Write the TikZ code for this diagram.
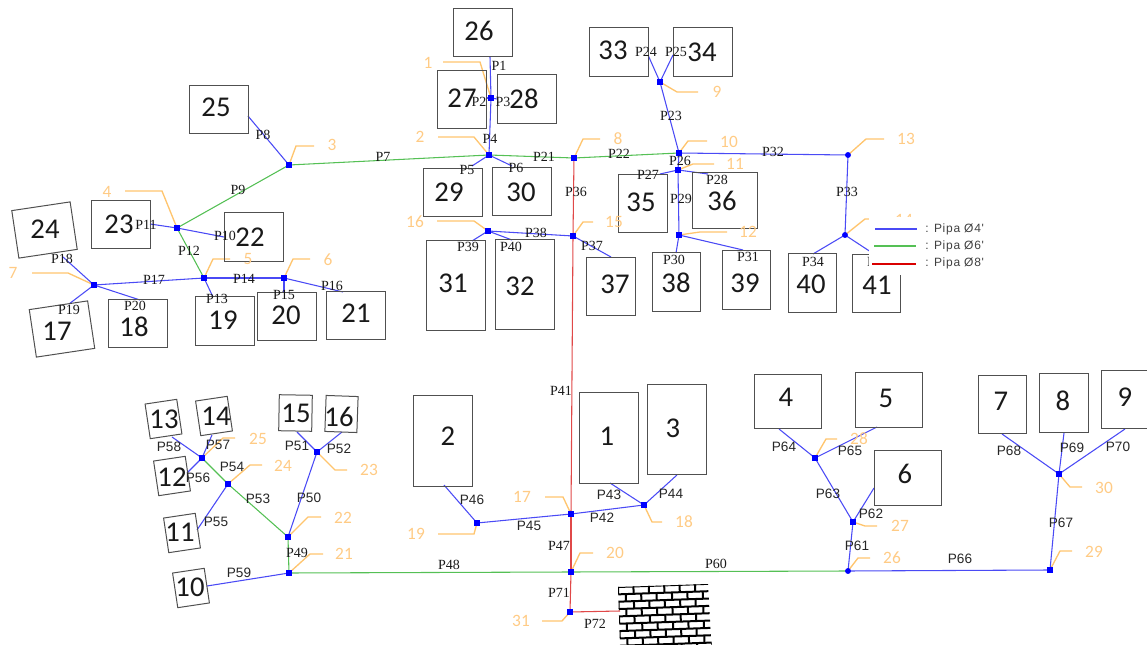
\documentclass[tikz,border=0pt]{standalone}
\usepackage{fontspec}
\setmainfont{Liberation Serif}
\setsansfont{Liberation Sans}
\newfontfamily\digfont{Carlito}
\newfontfamily\legfont[LetterSpace=6]{Liberation Sans}
\pgfdeclarelayer{pipes}
\pgfdeclarelayer{front}
\pgfsetlayers{pipes,main,front}
\definecolor{pipeblue}{HTML}{4A4AF5}
\definecolor{pipegreen}{HTML}{55C055}
\definecolor{pipered}{HTML}{E04848}
\definecolor{lead}{HTML}{FFC56E}
\definecolor{leadtext}{HTML}{FFCB85}
\definecolor{boxline}{HTML}{505050}
\tikzset{
  pblue/.style={draw=pipeblue,line width=.8pt},
  pgreen/.style={draw=pipegreen,line width=.8pt},
  pred/.style={draw=pipered,line width=.8pt},
  leader/.style={draw=lead,line width=1pt},
  junc/.style={rectangle,fill=blue,draw=blue,inner sep=0pt,minimum size=3.6pt,line width=.3pt},
  juncr/.style={circle,fill=blue,draw=blue,inner sep=0pt,minimum size=4pt,line width=.3pt},
  bldg/.style={draw=boxline,line width=.75pt,inner sep=0pt,outer sep=0pt},
  digit/.style={inner sep=0pt,font=\digfont\fontsize{21.5}{21.5}\selectfont,text=black!90},
  nlab/.style={inner sep=0pt,font=\digfont\fontsize{13}{13}\selectfont,text=leadtext},
  serlab/.style={inner sep=0pt,font=\rmfamily\fontsize{10.5}{10.5}\selectfont,text=black!90},
  sanlab/.style={inner sep=0pt,font=\sffamily\fontsize{10.2}{10.2}\selectfont,text=black!85},
  legt/.style={inner sep=0pt,anchor=west,font=\legfont\fontsize{9}{9}\selectfont,text=black!75},
}
\newcommand{\bld}[9]{%
  \node[bldg,rotate=#6,minimum width=#4*.75pt,minimum height=#5*.75pt] (b#1) at (#2,#3) {};
  \node[digit] (t#1) at (#8,#9) {#7};}
\newcommand{\jn}[3]{\node[junc] (j#1) at (#2,#3) {};}
\newcommand{\jr}[3]{\node[juncr] (j#1) at (#2,#3) {};}
% leader: junction, elbow x,y, end x,y, label x,y
\newcommand{\ldr}[7]{%
  \coordinate (ea#1) at (#2,#3); \coordinate (eb#1) at (#4,#5);
  \node[nlab] (n#1) at (#6,#7) {#1};
  \begin{pgfonlayer}{pipes}\draw[leader] (j#1.center) -- (ea#1) -- (eb#1);\end{pgfonlayer}}
% pipe between junctions
\newcommand{\pj}[3]{\begin{pgfonlayer}{pipes}\draw[#1] (j#2.center) -- (j#3.center);\end{pgfonlayer}}
% pipe from junction to a named free end
\newcommand{\pe}[5]{\coordinate (e#3) at (#4,#5);\begin{pgfonlayer}{pipes}\draw[#1] (j#2.center) -- (e#3);\end{pgfonlayer}}
\newcommand{\serl}[3]{\node[serlab] (l#1) at (#2,#3) {#1};}
\newcommand{\sanl}[3]{\node[sanlab] (l#1) at (#2,#3) {#1};}
\begin{document}
\begin{tikzpicture}[x=.75pt,y=-.75pt]
\useasboundingbox (0,0) rectangle (1147,645);
\clip (0,0) rectangle (1147,645);
% buildings: name cx cy w h rot text tx ty
\bld{25}{218.5}{110}{59}{48}{0}{25}{216}{107}
\bld{24}{44.5}{230}{59}{48}{8.5}{24}{45}{229}
\bld{23}{120.5}{225}{59}{48}{0}{23}{119}{224}
\bld{22}{253.5}{237.5}{59}{49}{0}{22}{250}{237}
\bld{17}{62}{329}{59}{48}{8.5}{17}{57}{331}
\bld{18}{137.5}{324}{59}{48}{0}{18}{134}{327}
\bld{19}{224.5}{321.5}{59}{49}{0}{19}{223}{320}
\bld{20}{286.5}{317}{59}{48}{0}{20}{286}{315}
\bld{21}{355.5}{316}{59}{48}{0}{21}{356}{313}
\bld{26}{482.5}{33}{59}{48}{0}{26}{479}{31}
\bld{27}{461.5}{100}{49}{58}{0}{27}{462}{98}
\bld{28}{526.5}{99.5}{59}{49}{0}{28}{524}{99}
\bld{29}{453}{193}{59}{48}{0}{29}{449}{192}
\bld{30}{522}{192}{59}{48}{0}{30}{521}{192}
\bld{31}{455.5}{286}{59}{90}{0}{31}{453}{283}
\bld{32}{524.5}{285}{59}{90}{0}{32}{520}{286}
\bld{37}{610.5}{287}{49}{58}{0}{37}{615}{284}
\bld{38}{676}{282.5}{48}{59}{0}{38}{676}{283}
\bld{35}{642.5}{204}{49}{58}{0}{35}{641}{202}
\bld{36}{725}{201}{65}{56}{0}{36}{722}{201}
\bld{33}{618.5}{52.5}{59}{49}{0}{33}{613}{50}
\bld{34}{702.5}{52.5}{59}{49}{0}{34}{702}{52}
\bld{39}{746}{280.5}{48}{59}{0}{39}{745}{283}
\bld{40}{812}{283.5}{48}{59}{0}{40}{811}{284}
\bld{41}{876}{284}{48}{58}{0}{41}{877}{285}
\bld{13}{163.5}{419}{32}{35}{8.5}{13}{164}{419}
\bld{14}{214}{416}{32}{35}{8.5}{14}{216}{416}
\bld{15}{295.5}{413}{33}{36}{-1}{15}{296}{413}
\bld{16}{341.5}{414}{32}{36}{-2}{16}{339}{417}
\bld{12}{172}{476}{32}{35}{8.5}{12}{172}{477}
\bld{11}{182}{533}{32}{35}{8.5}{11}{180}{532}
\bld{10}{191}{588}{32}{35}{8.5}{10}{190}{587}
\bld{2}{443}{441}{59}{90}{0}{2}{448}{436}
\bld{1}{608.5}{438}{59}{90}{0}{1}{607}{436}
\bld{3}{677}{430}{59}{90}{0}{3}{673}{428}
\bld{4}{787.5}{402}{67}{54}{0}{4}{786}{397}
\bld{5}{888.5}{400.5}{67}{55}{0}{5}{886}{398}
\bld{6}{907.5}{478}{67}{54}{0}{6}{905}{474}
\bld{7}{1002}{405}{48}{58}{0}{7}{1001}{401}
\bld{8}{1063.5}{403.5}{49}{59}{0}{8}{1063}{401}
\bld{9}{1125.5}{400}{49}{58}{0}{9}{1125}{397}
% junctions
\jn{1}{491}{98}\jn{2}{489}{155}\jn{3}{289}{165}\jn{4}{177}{228}\jn{5}{204}{278}\jn{6}{284}{278}
\jn{7}{94}{285}\jn{8}{574}{158}\jn{9}{660}{82}\jn{10}{679}{153}\jn{11}{678}{170}\jn{12}{679}{235}
\jr{13}{848}{155}\jr{14}{845}{235}\jn{15}{573}{236}\jn{16}{488}{231}\jn{17}{571}{514}\jn{18}{644}{505}
\jn{19}{477}{523}\jn{20}{571}{572}\jn{21}{289}{573}\jn{22}{288}{537}\jn{23}{317}{452}\jn{24}{228}{484}
\jn{25}{202}{458}\jr{26}{848}{571}\jn{27}{853}{522}\jn{28}{815}{458}\jn{29}{1050}{570}\jn{30}{1059}{474}
\jn{31}{570}{612}
% leaders
\ldr{1}{480}{62}{443}{62}{428}{63}
\ldr{2}{474}{137}{438}{137}{420}{137}
\ldr{3}{296}{146}{314}{146}{332}{145}
\ldr{4}{162}{191}{125}{191}{107}{192}
\ldr{5}{213}{259}{230}{259}{248}{259}
\ldr{6}{293}{259}{310}{259}{328}{260}
\ldr{7}{68}{273}{32}{273}{13}{273}
\ldr{8}{583}{139}{600}{139}{618}{139}
\ldr{9}{677}{92}{698}{92}{717}{92}
\ldr{10}{688}{141}{707}{141}{729}{142}
\ldr{11}{693}{164}{714}{164}{735}{164}
\ldr{12}{700}{232}{727}{232}{748}{232}
\ldr{13}{866}{139}{884}{139}{906}{139}
\ldr{14}{865}{219}{878}{219}{904}{220}
\ldr{15}{583}{222}{593}{222}{614}{222}
\ldr{16}{474}{221}{437}{221}{415}{222}
\ldr{17}{563}{497}{545}{497}{522}{497}
\ldr{18}{652}{522}{662}{522}{684}{522}
\ldr{19}{474}{534}{438}{534}{416}{534}
\ldr{20}{580}{553}{593}{553}{615}{553}
\ldr{21}{310}{554}{323}{554}{344}{554}
\ldr{22}{308}{517}{321}{517}{343}{518}
\ldr{23}{335}{470}{347}{470}{369}{470}
\ldr{24}{250}{465}{262}{465}{283}{466}
\ldr{25}{223}{438}{235}{438}{258}{439}
\ldr{26}{858}{558}{870}{558}{892}{558}
\ldr{27}{865}{526}{877}{526}{900}{526}
\ldr{28}{826}{439}{837}{439}{859}{439}
\ldr{29}{1060}{551}{1072}{551}{1094}{552}
\ldr{30}{1070}{487}{1082}{487}{1104}{488}
\ldr{31}{562}{621}{542}{621}{521}{621}
% pipes
\pe{pblue}{1}{P1}{490}{57}\pe{pblue}{1}{P2}{486}{98}\pe{pblue}{1}{P3}{497}{99}
\pj{pblue}{1}{2}
\pe{pblue}{2}{P5}{472}{166}\pe{pblue}{2}{P6}{512}{166}
\pj{pgreen}{3}{2}\pj{pgreen}{2}{8}\pj{pgreen}{8}{10}
\pe{pblue}{3}{P8}{248}{116}\pj{pgreen}{3}{4}
\pe{pblue}{4}{P10}{224}{237}\pe{pblue}{4}{P11}{150}{224}\pj{pgreen}{4}{5}
\pe{pblue}{5}{P13}{213}{297}\pj{pblue}{5}{6}\pe{pblue}{6}{P15}{284}{293}\pe{pblue}{6}{P16}{343}{292}
\pj{pblue}{7}{5}\pe{pblue}{7}{P18}{63}{257}\pe{pblue}{7}{P19}{69}{304}\pe{pblue}{7}{P20}{140}{300}
\pj{pblue}{9}{10}\pe{pblue}{9}{P24}{648}{55}\pe{pblue}{9}{P25}{673}{55}
\pj{pblue}{10}{11}\pe{pblue}{11}{P27}{660}{174}\pe{pblue}{11}{P28}{708}{174}
\pj{pblue}{11}{12}\pe{pblue}{12}{P30}{676}{253}\pe{pblue}{12}{P31}{743}{250}
\pj{pblue}{10}{13}\pj{pblue}{13}{14}\pe{pblue}{14}{P34}{813}{254}\pe{pblue}{14}{P35}{880}{258}
\pj{pred}{8}{15}\pe{pblue}{15}{P37}{611}{257}\pj{pblue}{15}{16}
\pe{pblue}{16}{P39}{472}{241}\pe{pblue}{16}{P40}{512}{240}
\pj{pred}{15}{17}\pj{pblue}{17}{18}\pe{pblue}{18}{P43}{610}{483}\pe{pblue}{18}{P44}{677}{475}
\pj{pblue}{19}{17}\pe{pblue}{19}{P46}{444}{485}
\pj{pred}{17}{20}\pj{pgreen}{21}{20}\pj{pgreen}{20}{26}\pj{pgreen}{21}{22}
\pj{pblue}{22}{23}\pe{pblue}{23}{P51}{297}{432}\pe{pblue}{23}{P52}{342}{432}
\pj{pgreen}{22}{24}\pj{pgreen}{24}{25}
\pe{pblue}{24}{P55}{197}{530}\pe{pblue}{25}{P56}{187}{473}\pe{pblue}{25}{P57}{212}{435}\pe{pblue}{25}{P58}{172}{437}
\pe{pblue}{21}{P59}{207}{586}
\pj{pblue}{26}{27}\pe{pblue}{27}{P62}{874}{488}\pj{pblue}{27}{28}
\pe{pblue}{28}{P64}{779}{429}\pe{pblue}{28}{P65}{877}{427}
\pj{pblue}{26}{29}\pj{pblue}{29}{30}
\pe{pblue}{30}{P68}{1002}{434}\pe{pblue}{30}{P69}{1064}{433}\pe{pblue}{30}{P70}{1125}{429}
\pj{pred}{20}{31}\pe{pred}{31}{P72}{620}{611}
% pipe labels
\serl{P1}{499}{66}\serl{P2}{479}{102}\serl{P3}{503}{102}\serl{P4}{490}{139}\serl{P5}{467}{170}\serl{P6}{516}{168}
\serl{P7}{383}{157}\serl{P8}{263}{135}\serl{P9}{238}{190}\serl{P10}{225}{236}\serl{P11}{146}{225}\serl{P12}{189}{251}
\serl{P13}{217}{299}\serl{P14}{244}{279}\serl{P15}{284}{295}\serl{P16}{332}{286}\serl{P17}{154}{280}\serl{P18}{62}{259}
\serl{P19}{69}{310}\serl{P20}{135}{306}\serl{P21}{544}{157}\serl{P22}{619}{154}\serl{P23}{671}{116}\serl{P24}{646}{52}
\serl{P25}{676}{52}\serl{P26}{680}{161}\serl{P27}{648}{175}\serl{P28}{717}{180}\serl{P29}{681}{199}\serl{P30}{674}{260}
\serl{P31}{748}{257}\serl{P32}{773}{152}\serl{P33}{847}{192}\serl{P34}{813}{262}\serl{P35}{878}{262}
\serl{P36}{576}{192}\serl{P37}{592}{246}\serl{P38}{536}{233}\serl{P39}{468}{247}\serl{P40}{511}{247}
\serl{P41}{561}{391}\sanl{P42}{602}{518}\sanl{P43}{609}{495}\sanl{P44}{671}{494}\sanl{P45}{529}{526}\sanl{P46}{472}{500}
\serl{P47}{559}{546}\serl{P48}{449}{565}\serl{P49}{297}{553}\sanl{P50}{309}{498}\sanl{P51}{297}{446}\sanl{P52}{339}{449}
\sanl{P53}{258}{499}\sanl{P54}{232}{467}\sanl{P55}{216}{522}\sanl{P56}{198}{478}\sanl{P57}{218}{445}\sanl{P58}{169}{447}
\sanl{P59}{239}{573}\serl{P60}{716}{564}\sanl{P61}{857}{546}\sanl{P62}{871}{514}\sanl{P63}{828}{494}\sanl{P64}{784}{447}
\sanl{P65}{850}{451}\sanl{P66}{960}{559}\sanl{P67}{1061}{523}\sanl{P68}{1009}{451}\sanl{P69}{1072}{448}\sanl{P70}{1118}{447}
\serl{P71}{559}{593}\serl{P72}{595}{624}
% brick wall
\begin{scope}
\clip (618,587) -- (708,584) -- (711,638) -- (712,645) -- (620,645) -- cycle;
\begin{scope}[shift={(618,587)},rotate=2,line width=1.5pt]
\foreach \rw in {-1,...,9}{
  \draw[black] (-10,{\rw*7.35}) -- (100,{\rw*7.35});
  \pgfmathsetmacro{\off}{mod(\rw+2,2)==0 ? 0 : 7.5}
  \foreach \cl in {-1,...,6}{
    \draw[black] ({\off+\cl*15.4},{\rw*7.35}) -- ({\off+\cl*15.4},{(\rw+1)*7.35});
  }
}
\end{scope}
\end{scope}
% legend
\begin{pgfonlayer}{front}
\node[fill=white,inner sep=0pt,minimum width=131*.75pt,minimum height=58*.75pt] (legmask) at (934.5,246) {};
\coordinate (la) at (875,229);\coordinate (lb) at (917,229);
\coordinate (lc) at (874,246);\coordinate (ld) at (916,246);
\coordinate (le) at (872,264);\coordinate (lf) at (916,264);
\draw[pblue] (la) -- (lb);
\draw[pgreen] (lc) -- (ld);
\draw[draw=red!85!black,line width=1.6pt] (le) -- (lf);
\node[legt] (lega) at (925,229) {: Pipa Ø4'};
\node[legt] (legb) at (925,246) {: Pipa Ø6'};
\node[legt] (legc) at (925,263) {: Pipa Ø8'};
\end{pgfonlayer}
\end{tikzpicture}
\end{document}
